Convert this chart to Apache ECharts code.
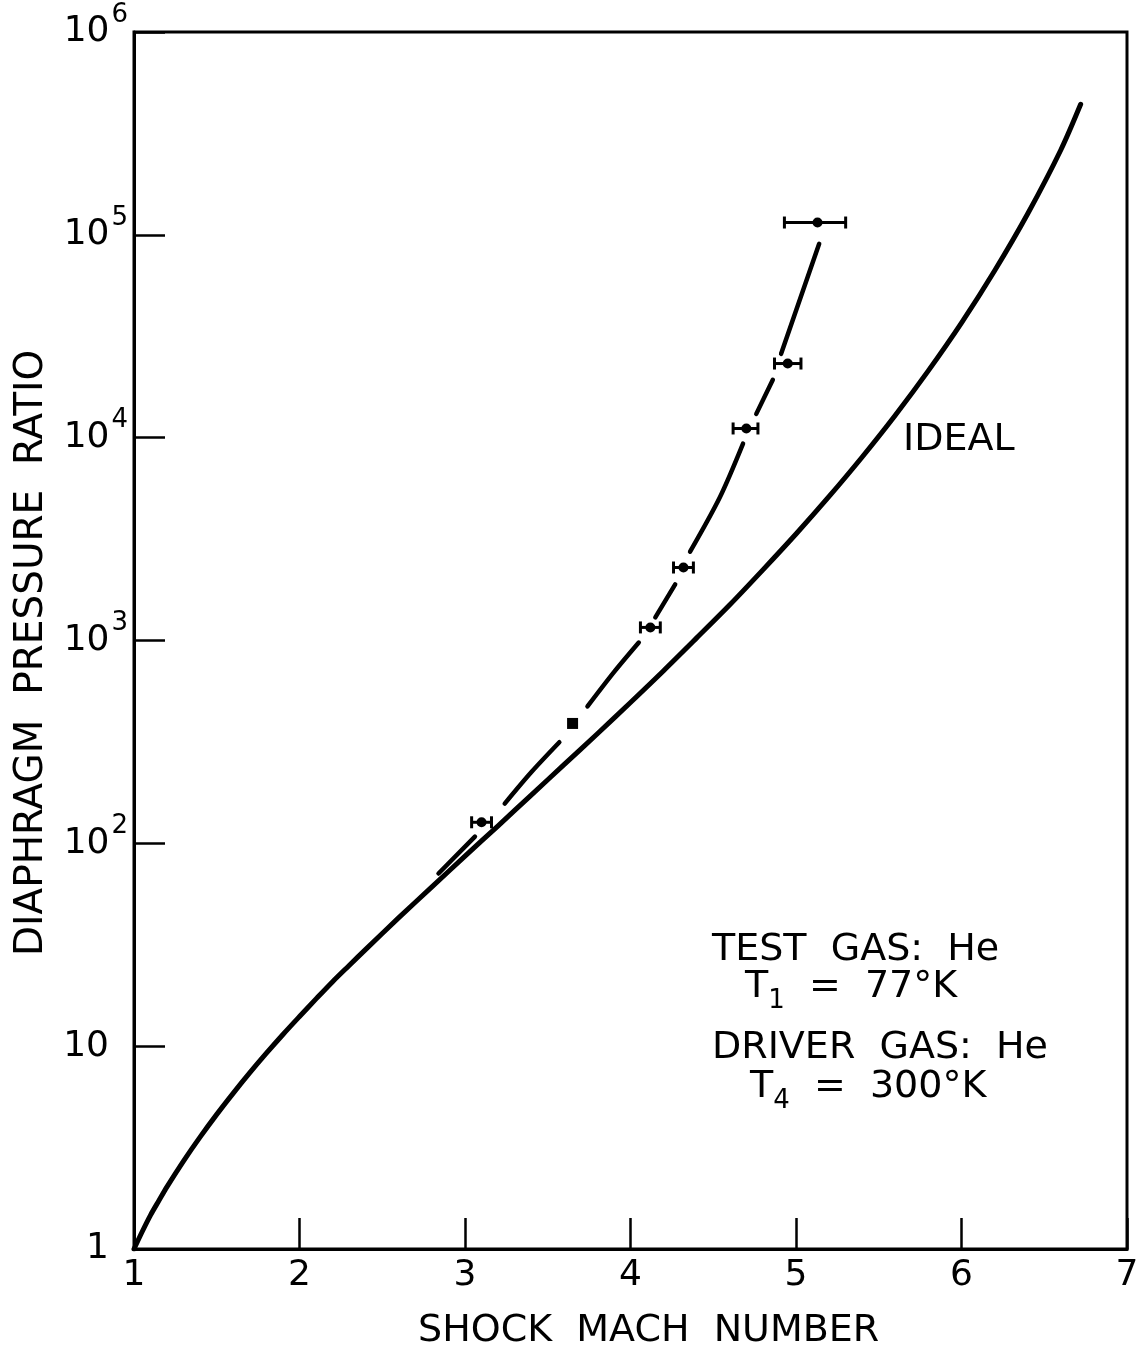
<!DOCTYPE html>
<html><head><meta charset="utf-8">
<script src="https://cdn.jsdelivr.net/npm/echarts@6/dist/echarts.min.js"></script>
<style>html,body{margin:0;padding:0;background:#fff}#c{width:1144px;height:1351px}</style>
</head><body><div id="c"></div>
<script>
// Ideal curve
const idealMach  = [1.0, 1.05, 1.1, 1.15, 1.2, 1.3, 1.4, 1.5, 1.6, 1.7, 1.8, 1.9, 2.0, 2.1, 2.2, 2.3, 2.4, 2.6, 2.8, 3.0, 3.2, 3.4, 3.6, 3.8, 4.0, 4.2, 4.4, 4.6, 4.8, 5.0, 5.2, 5.4, 5.6, 5.8, 6.0, 6.2, 6.4, 6.6, 6.72];
const idealRatio = [1, 1.22, 1.47, 1.73, 2.03, 2.72, 3.57, 4.61, 5.87, 7.40, 9.23, 11.42, 14.0, 17.1, 20.8, 25.0, 30.0, 43.0, 61, 86.5, 122, 173, 245, 347, 495, 710, 1030, 1500, 2230, 3350, 5130, 8030, 12900, 21400, 36800, 66500, 127000, 262000, 440000];
// Fitted (broken) curve through experiments; null = gap in the drawn line
const fitMach  = [2.84, 3.06, null, 3.24, 3.40, 3.57, null, 3.74, 3.90, 4.05, null, 4.15, 4.27, null, 4.36, 4.54, 4.68, null, 4.76, 4.86, null, 4.91, 5.14];
const fitRatio = [71, 108, null, 157, 224, 315, null, 473, 698, 977, null, 1300, 1890, null, 2740, 5080, 9340, null, 13100, 19300, null, 25900, 90300];
// Measured points with horizontal error bars
const ptMach  = [3.10, 4.12, 4.32, 4.70, 4.95, 5.13];
const ptRatio = [127, 1160, 2290, 11100, 23200, 115000];
const ptLow   = [3.04, 4.06, 4.26, 4.62, 4.87, 4.93];
const ptHigh  = [3.16, 4.18, 4.38, 4.77, 5.03, 5.30];
// Square point
const sqMach  = [3.65];
const sqRatio = [390];
// Axis ticks
const xTicks = [1, 2, 3, 4, 5, 6, 7];

const FONT = 'DejaVu Sans';
const chart = echarts.init(document.getElementById('c'), null, {renderer: 'canvas'});

const idealData = idealMach.map((m, i) => [m, idealRatio[i]]);
const fitData = fitMach.map((m, i) => m === null ? [NaN, null] : [m, fitRatio[i]]);
const ptData = ptMach.map((m, i) => [m, ptRatio[i], ptLow[i], ptHigh[i]]);
const sqData = sqMach.map((m, i) => [m, sqRatio[i]]);

const option = {
  backgroundColor: '#fff',
  animation: false,
  grid: {left: 134, right: 17, top: 32, bottom: 102, show: true, borderColor: '#000', borderWidth: 3, outerBoundsMode: 'none', containLabel: false},
  xAxis: {
    type: 'value', min: xTicks[0], max: xTicks[xTicks.length - 1], interval: 1,
    name: '   SHOCK  MACH  NUMBER', nameLocation: 'middle', nameGap: 62,
    nameTextStyle: {fontFamily: FONT, fontSize: 38, color: '#000', lineHeight: 40},
    axisLine: {show: true, lineStyle: {color: '#000', width: 3}},
    axisTick: {show: true, inside: true, length: 31, lineStyle: {color: '#000', width: 2.5}},
    axisLabel: {show: true, margin: 9, fontFamily: FONT, fontSize: 36, color: '#000', lineHeight: 36},
    splitLine: {show: false}
  },
  yAxis: {
    type: 'log', logBase: 10, min: 1, max: 1e6, interval: 1,
    name: 'DIAPHRAGM  PRESSURE  RATIO  ', nameLocation: 'middle', nameGap: 82,
    nameTextStyle: {fontFamily: FONT, fontSize: 39, color: '#000', lineHeight: 40},
    axisLine: {show: true, lineStyle: {color: '#000', width: 3}},
    axisTick: {show: true, inside: true, length: 31, lineStyle: {color: '#000', width: 2.5}},
    axisLabel: {
      show: true, margin: 6, color: '#000',
      formatter: function (v) {
        const n = Math.round(Math.log10(v));
        if (n === 0) return '{b|1}{p| }';
        if (n === 1) return '{b|10}{p| }';
        return '{b|10}{s|' + n + '}';
      },
      rich: {
        b: {fontFamily: FONT, fontSize: 36, lineHeight: 40, color: '#000'},
        s: {fontFamily: FONT, fontSize: 26, lineHeight: 26, padding: [0, 0, 34, 2], color: '#000'},
        p: {fontFamily: FONT, fontSize: 26, lineHeight: 26, width: 19}
      }
    },
    splitLine: {show: false}
  },
  series: [
    {
      type: 'line', data: idealData, smooth: 0.3, showSymbol: false, z: 3,
      lineStyle: {color: '#000', width: 5, cap: 'round', join: 'round'}
    },
    {
      type: 'line', data: fitData, smooth: 0.3, showSymbol: false, connectNulls: false, z: 3,
      lineStyle: {color: '#000', width: 4.5, cap: 'round', join: 'round'}
    },
    {
      type: 'custom', z: 5,
      encode: {x: [0, 2, 3], y: 1},
      data: ptData,
      renderItem: function (params, api) {
        const y = api.value(1);
        const c = api.coord([api.value(0), y]);
        const l = api.coord([api.value(2), y]);
        const r = api.coord([api.value(3), y]);
        const st = {stroke: '#000', lineWidth: 3};
        return {type: 'group', children: [
          {type: 'line', shape: {x1: l[0], y1: c[1], x2: r[0], y2: c[1]}, style: st},
          {type: 'line', shape: {x1: l[0], y1: c[1] - 6, x2: l[0], y2: c[1] + 6}, style: st},
          {type: 'line', shape: {x1: r[0], y1: c[1] - 6, x2: r[0], y2: c[1] + 6}, style: st},
          {type: 'circle', shape: {cx: c[0], cy: c[1], r: 5}, style: {fill: '#000'}}
        ]};
      }
    },
    {
      type: 'scatter', data: sqData, symbol: 'rect', symbolSize: 11, z: 5,
      itemStyle: {color: '#000', opacity: 1}
    }
  ],
  graphic: [
    {type: 'text', x: 903, y: 440, style: {text: 'IDEAL', fontFamily: FONT, fontSize: 38, fill: '#000', verticalAlign: 'middle'}},
    {type: 'text', x: 712, y: 950, style: {text: 'TEST  GAS:  He', fontFamily: FONT, fontSize: 38, fill: '#000', verticalAlign: 'middle'}},
    {type: 'text', x: 745, y: 987, style: {
      text: '{m|T}{s|1}{m|  =  77°K}', verticalAlign: 'middle',
      rich: {m: {fontFamily: FONT, fontSize: 38, lineHeight: 40, color: '#000'},
             s: {fontFamily: FONT, fontSize: 26, lineHeight: 26, padding: [28, 0, 0, 0], color: '#000'}}
    }},
    {type: 'text', x: 712, y: 1048, style: {text: 'DRIVER  GAS:  He', fontFamily: FONT, fontSize: 38, fill: '#000', verticalAlign: 'middle'}},
    {type: 'text', x: 750, y: 1087, style: {
      text: '{m|T}{s|4}{m|  =  300°K}', verticalAlign: 'middle',
      rich: {m: {fontFamily: FONT, fontSize: 38, lineHeight: 40, color: '#000'},
             s: {fontFamily: FONT, fontSize: 26, lineHeight: 26, padding: [28, 0, 0, 0], color: '#000'}}
    }}
  ]
};
chart.setOption(option);
</script>
</body></html>
